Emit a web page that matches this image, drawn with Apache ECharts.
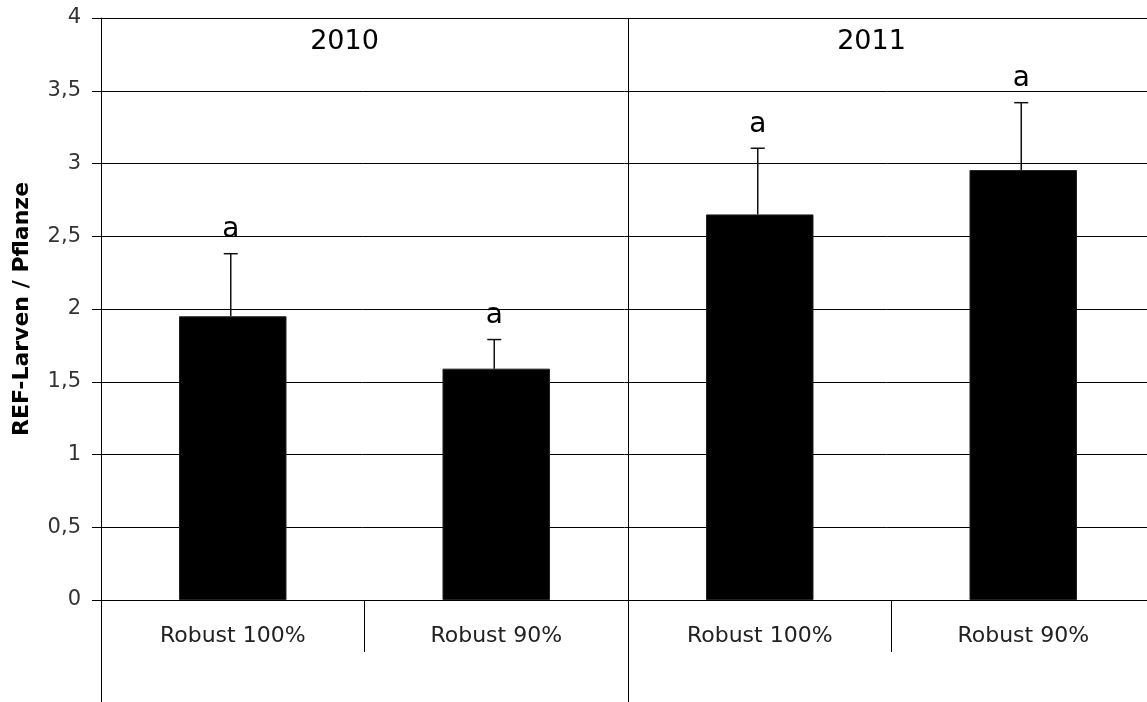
<!DOCTYPE html>
<html><head><meta charset="utf-8">
<script src="https://cdn.jsdelivr.net/npm/echarts@6/dist/echarts.min.js"></script>
<style>html,body{margin:0;padding:0;background:#fff}#c{width:1147px;height:702px}</style>
</head><body><div id="c"></div>
<script>
const categories = ['Robust 100%', 'Robust 90%', 'Robust 100%', 'Robust 90%'];
const groups = ['2010', '2011'];
const means = [1.95, 1.59, 2.65, 2.955];
const errors = [0.43, 0.20, 0.455, 0.463];
const sigLetters = ['a', 'a', 'a', 'a'];
const yTitle = 'REF-Larven / Pflanze';

const FONT = 'DejaVu Sans';
const gridRect = { left: 101, width: 1054, top: 18, bottom: 102, outerBoundsMode: 'none', containLabel: false };

const chart = echarts.init(document.getElementById('c'), null, { renderer: 'canvas' });
chart.setOption({
  backgroundColor: '#fff',
  animation: false,
  grid: [Object.assign({}, gridRect), Object.assign({}, gridRect)],
  xAxis: [
    {
      type: 'category', gridIndex: 0, position: 'bottom', data: categories,
      axisLine: { show: true, lineStyle: { color: '#000', width: 1 } },
      axisTick: { show: true, interval: 0, length: 52, lineStyle: { color: '#000', width: 1 } },
      axisLabel: { interval: 0, margin: 25, fontFamily: FONT, fontSize: 22, color: '#222' },
      splitLine: { show: false }
    },
    {
      type: 'category', gridIndex: 0, position: 'top', data: groups,
      axisLine: { show: true, lineStyle: { color: '#000', width: 1 } },
      axisTick: { show: false },
      axisLabel: { inside: true, interval: 0, margin: 10, fontFamily: FONT, fontSize: 27, color: '#000',
        padding: [0, 40, 0, 0] },
      splitLine: { show: true, interval: 0, lineStyle: { color: '#000', width: 1 } }
    },
    {
      type: 'category', gridIndex: 1, position: 'bottom', data: groups,
      axisLine: { show: false },
      axisTick: { show: true, interval: 0, length: 102, lineStyle: { color: '#000', width: 1 } },
      axisLabel: { show: false },
      splitLine: { show: false }
    }
  ],
  yAxis: [
    {
      type: 'value', gridIndex: 0, min: 0, max: 4, interval: 0.5,
      name: yTitle, nameLocation: 'middle', nameGap: 68, nameRotate: 90,
      nameTextStyle: { fontFamily: FONT, fontWeight: 'bold', fontSize: 22, color: '#000' },
      axisLine: { show: true, lineStyle: { color: '#000', width: 1 } },
      axisTick: { show: true, length: 9, lineStyle: { color: '#000', width: 1 } },
      axisLabel: { margin: 20, fontFamily: FONT, fontSize: 21, color: '#333',
        formatter: v => String(v).replace('.', ',') },
      splitLine: { show: true, lineStyle: { color: '#000', width: 1 } }
    },
    {
      type: 'value', gridIndex: 1, min: 0, max: 4, show: false,
      splitLine: { show: false }
    }
  ],
  series: [
    {
      type: 'bar', xAxisIndex: 0, yAxisIndex: 0, data: means,
      barWidth: '40.8%',
      itemStyle: { color: '#000', borderColor: '#222', borderWidth: 1 },
      z: 2
    },
    {
      type: 'custom', xAxisIndex: 0, yAxisIndex: 0,
      data: means.map((m, i) => [i, m, errors[i]]),
      encode: { x: 0, y: [1, 2] },
      z: 3,
      renderItem: function (params, api) {
        const i = api.value(0), m = api.value(1), e = api.value(2);
        const base = api.coord([i, m]);
        const top = api.coord([i, m + e]);
        const x = base[0] - 2;
        const cap = 7;
        return {
          type: 'group',
          children: [
            { type: 'line', shape: { x1: x, y1: base[1], x2: x, y2: top[1] },
              style: { stroke: '#111', lineWidth: 1.5 } },
            { type: 'line', shape: { x1: x - cap, y1: top[1], x2: x + cap, y2: top[1] },
              style: { stroke: '#111', lineWidth: 1.5 } },
            { type: 'text', x: x, y: top[1] - 10,
              style: { text: sigLetters[params.dataIndex], font: '28px "DejaVu Sans"',
                align: 'center', verticalAlign: 'bottom', fill: '#000' } }
          ]
        };
      }
    }
  ]
});
</script>
</body></html>
